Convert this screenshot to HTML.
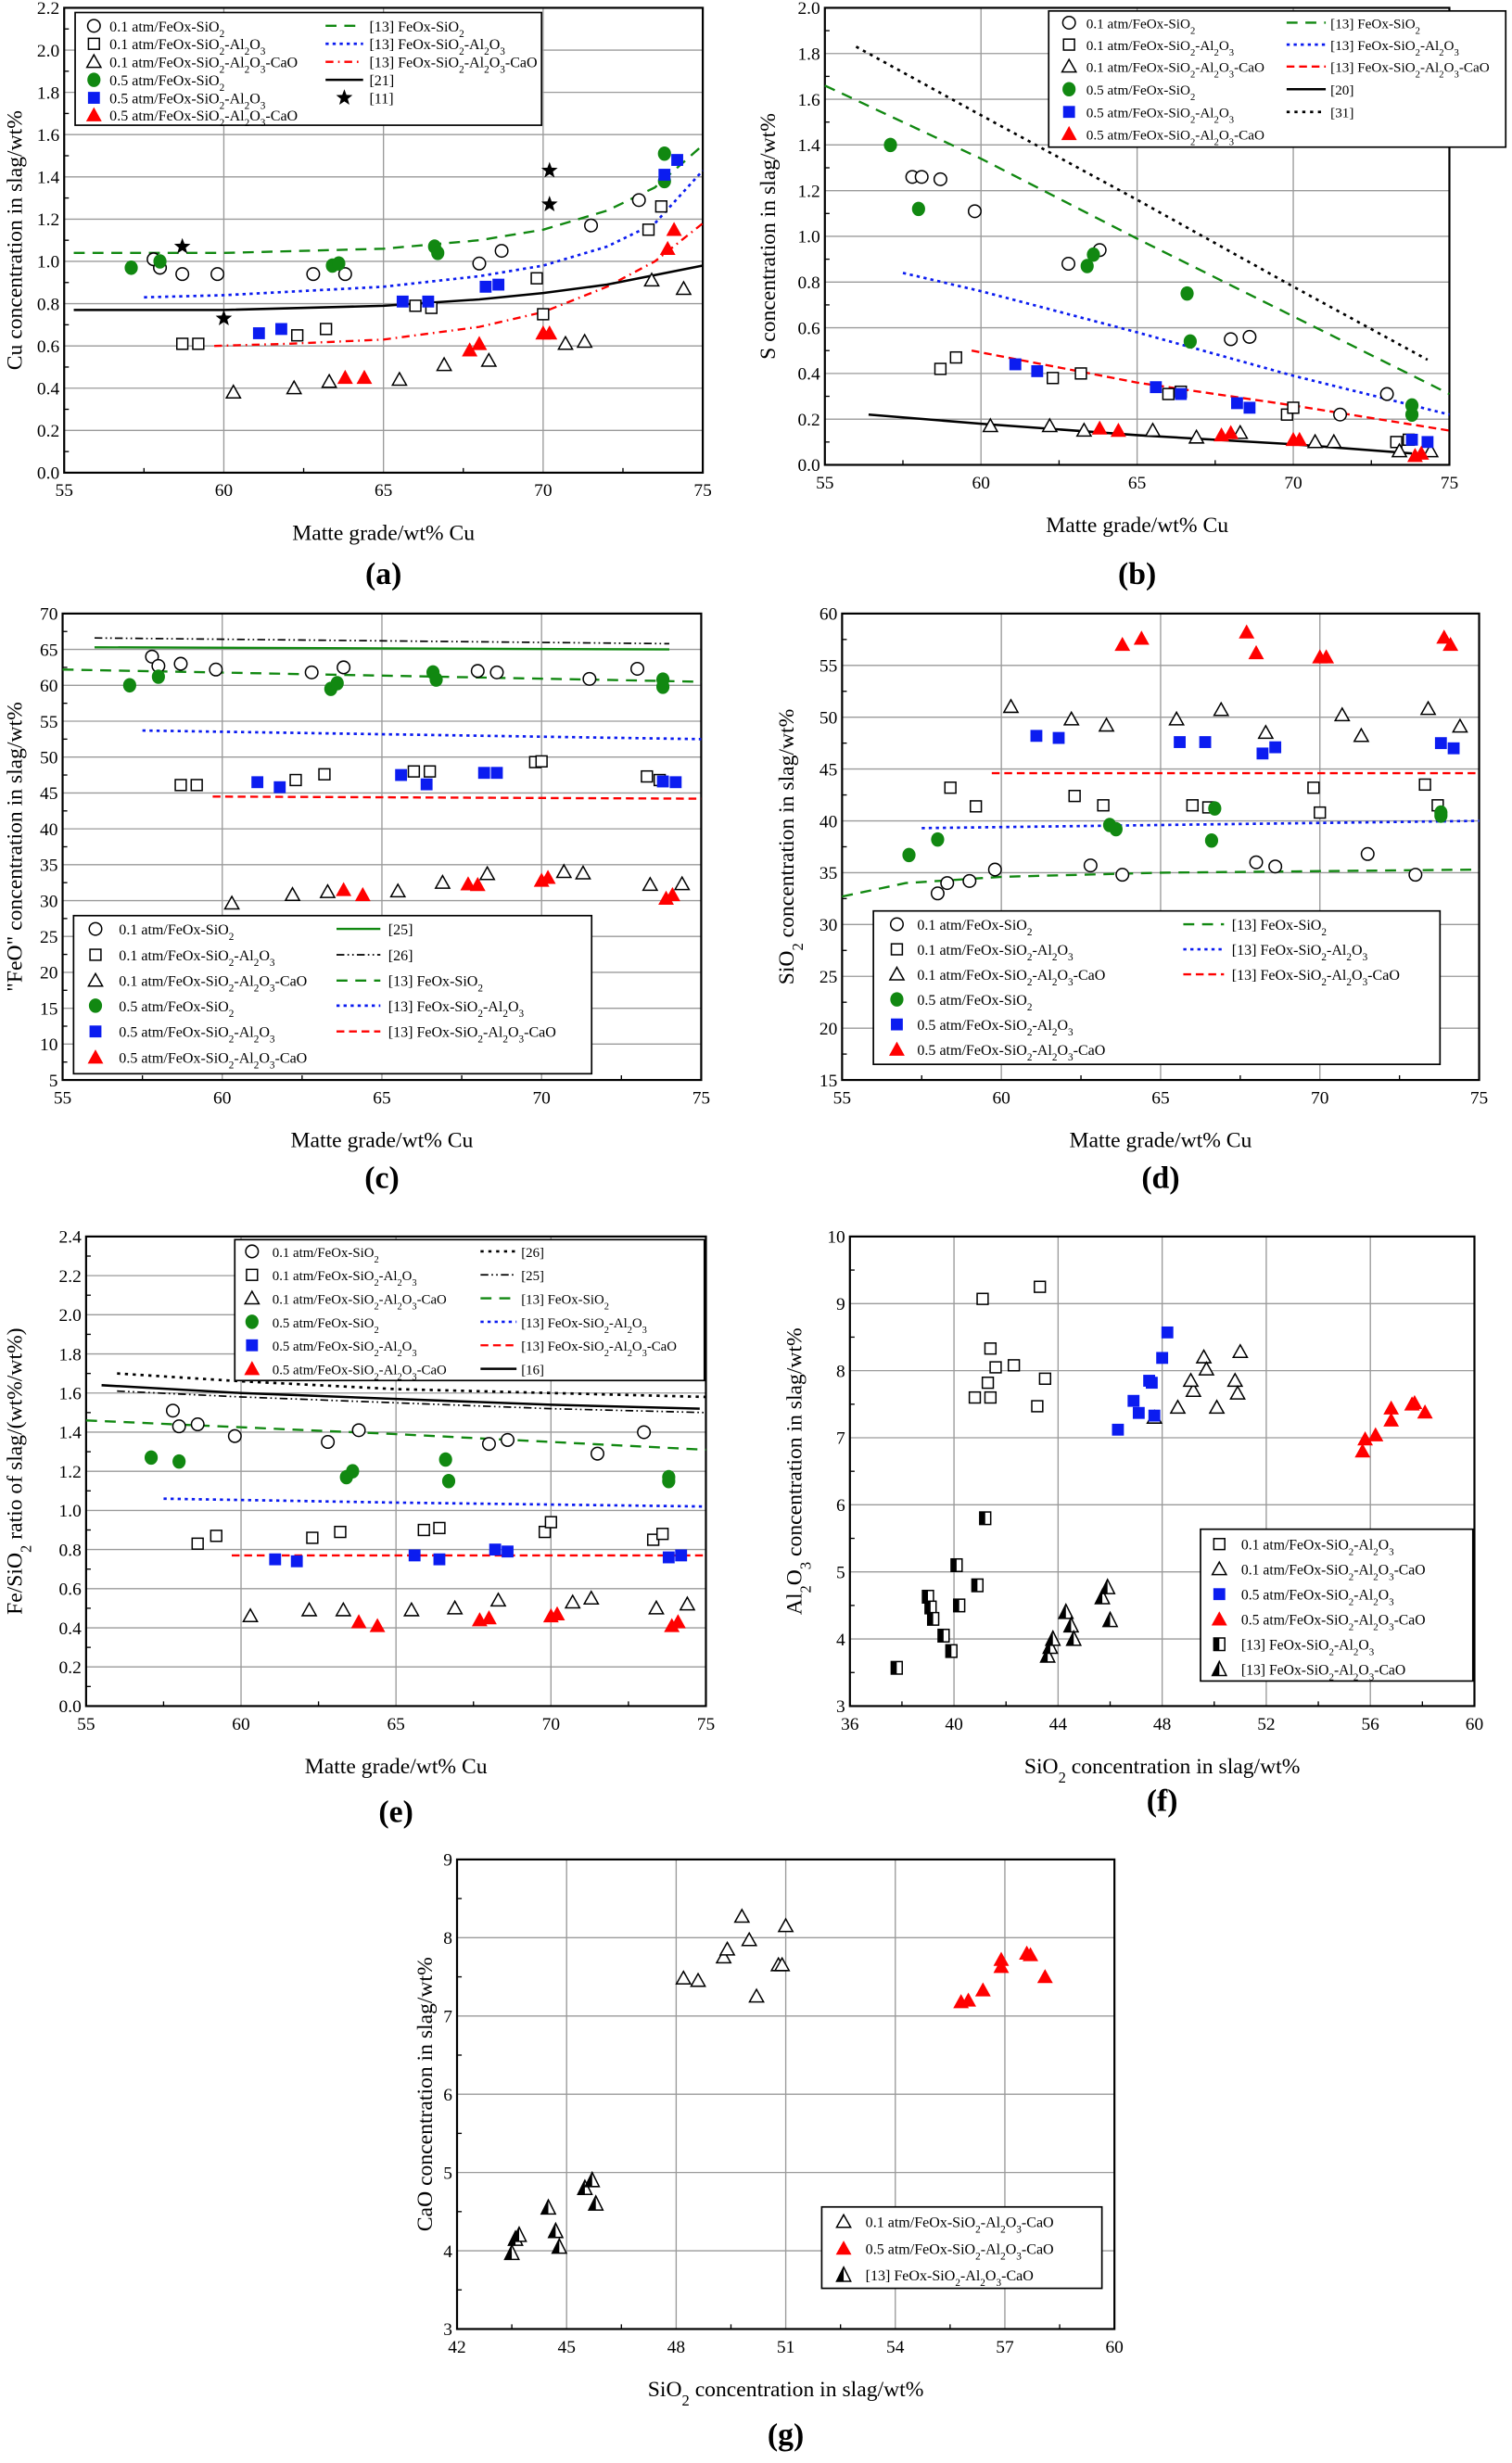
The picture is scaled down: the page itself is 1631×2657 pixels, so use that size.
<!DOCTYPE html>
<html><head><meta charset="utf-8">
<style>
html,body{margin:0;padding:0;background:#fff;}
svg{display:block;font-family:"Liberation Serif",serif;}
</style></head>
<body>
<svg id="fig" width="1631" height="2657" viewBox="0 0 966 1573.6" preserveAspectRatio="none" xmlns="http://www.w3.org/2000/svg"></svg>
<script>
// ---------- DATA ----------
// panel a: Cu in slag vs matte grade
const aO1=[[57.8,1.01],[58.0,0.97],[58.7,0.94],[59.8,0.94],[62.8,0.94],[63.8,0.94],[68.0,0.99],[68.7,1.05],[71.5,1.17],[73.0,1.29]];
const aS1=[[58.7,0.61],[59.2,0.61],[62.3,0.65],[63.2,0.68],[66.0,0.79],[66.5,0.78],[69.8,0.92],[70.0,0.75],[73.3,1.15],[73.7,1.26]];
const aT1=[[60.3,0.38],[62.2,0.40],[63.3,0.43],[65.5,0.44],[66.9,0.51],[68.3,0.53],[70.7,0.61],[71.3,0.62],[73.4,0.91],[74.4,0.87]];
const aG5=[[57.1,0.97],[58.0,1.0],[63.4,0.98],[63.6,0.99],[66.6,1.07],[66.7,1.04],[73.8,1.51],[73.8,1.38]];
const aB5=[[61.1,0.66],[61.8,0.68],[65.6,0.81],[66.4,0.81],[68.2,0.88],[68.6,0.89],[73.8,1.41],[74.2,1.48]];
const aR5=[[63.8,0.45],[64.4,0.45],[67.7,0.58],[68.0,0.61],[70.0,0.66],[70.2,0.66],[73.9,1.06],[74.1,1.15]];
const aStar=[[58.7,1.07],[60.0,0.73],[70.2,1.43],[70.2,1.27]];
const aLG=[[55.3,1.04],[60,1.04],[65,1.06],[68,1.10],[70,1.15],[72,1.24],[73.5,1.35],[75,1.55]];
const aLB=[[57.5,0.83],[60,0.84],[65,0.88],[68,0.93],[70,0.98],[72,1.07],[73.5,1.18],[75,1.43]];
const aLR=[[59.7,0.60],[62,0.61],[65,0.63],[68,0.69],[70,0.76],[72,0.88],[73.5,1.0],[75,1.18]];
const aLK=[[55.3,0.77],[60,0.77],[65,0.79],[68,0.82],[70,0.85],[72,0.89],[75,0.98]];
// panel b: S in slag
const bO1=[[57.8,1.26],[58.1,1.26],[58.7,1.25],[59.8,1.11],[62.8,0.88],[63.8,0.94],[68.0,0.55],[68.6,0.56],[71.5,0.22],[73.0,0.31]];
const bS1=[[58.7,0.42],[59.2,0.47],[62.3,0.38],[63.2,0.40],[66.0,0.31],[66.4,0.32],[69.8,0.22],[70.0,0.25],[73.3,0.10],[73.7,0.11]];
const bT1=[[60.3,0.17],[62.2,0.17],[63.3,0.15],[65.5,0.15],[66.9,0.12],[68.3,0.14],[70.7,0.10],[71.3,0.10],[73.4,0.06],[74.4,0.06]];
const bG5=[[57.1,1.40],[58.0,1.12],[63.4,0.87],[63.6,0.92],[66.6,0.75],[66.7,0.54],[73.8,0.22],[73.8,0.26]];
const bB5=[[61.1,0.44],[61.8,0.41],[65.6,0.34],[66.4,0.31],[68.2,0.27],[68.6,0.25],[73.8,0.11],[74.3,0.10]];
const bR5=[[63.8,0.16],[64.4,0.15],[67.7,0.13],[68.0,0.14],[70.0,0.11],[70.2,0.11],[73.9,0.04],[74.1,0.05]];
const bLG=[[55,1.66],[60,1.34],[65,0.99],[70,0.65],[75,0.31]];
const bLB=[[57.5,0.84],[60,0.76],[65,0.58],[70,0.39],[75,0.22]];
const bLR=[[59.7,0.50],[65,0.36],[70,0.26],[75,0.15]];
const bLK=[[56.4,0.22],[60,0.18],[65,0.13],[70,0.09],[73.8,0.05]];
const bLD=[[56,1.83],[60,1.53],[65,1.16],[70,0.78],[74.3,0.46]];
// panel c: "FeO"
const cO1=[[57.8,64],[58.0,62.7],[58.7,63],[59.8,62.2],[62.8,61.8],[63.8,62.5],[68.0,62],[68.6,61.8],[71.5,60.9],[73.0,62.3]];
const cS1=[[58.7,46.1],[59.2,46.1],[62.3,46.8],[63.2,47.6],[66.0,48],[66.5,48],[69.8,49.3],[70.0,49.4],[73.3,47.3],[73.7,46.8]];
const cT1=[[60.3,29.6],[62.2,30.8],[63.3,31.2],[65.5,31.3],[66.9,32.5],[68.3,33.7],[70.7,34],[71.3,33.8],[73.4,32.2],[74.4,32.3]];
const cG5=[[57.1,60],[58.0,61.2],[63.4,59.5],[63.6,60.3],[66.6,61.8],[66.7,60.8],[73.8,60.8],[73.8,59.8]];
const cB5=[[61.1,46.5],[61.8,45.8],[65.6,47.5],[66.4,46.2],[68.2,47.8],[68.6,47.8],[73.8,46.6],[74.2,46.5]];
const cR5=[[63.8,31.5],[64.4,30.8],[67.7,32.3],[68.0,32.2],[70.0,32.8],[70.2,33.2],[73.9,30.3],[74.1,30.8]];
const cL25=[[56,65.3],[74,65.0]];
const cL26=[[56,66.6],[74,65.8]];
const cLG=[[55,62.2],[75,60.5]];
const cLB=[[57.5,53.7],[75,52.5]];
const cLR=[[59.7,44.5],[75,44.2]];
// panel d: SiO2
const dO1=[[58.0,33],[58.3,34],[59.0,34.2],[59.8,35.3],[62.8,35.7],[63.8,34.8],[68.0,36],[68.6,35.6],[71.5,36.8],[73.0,34.8]];
const dS1=[[58.4,43.2],[59.2,41.4],[62.3,42.4],[63.2,41.5],[66.0,41.5],[66.5,41.3],[69.8,43.2],[70.0,40.8],[73.3,43.5],[73.7,41.5]];
const dT1=[[60.3,51],[62.2,49.8],[63.3,49.2],[65.5,49.8],[66.9,50.7],[68.3,48.5],[70.7,50.2],[71.3,48.2],[73.4,50.8],[74.4,49.1]];
const dG5=[[57.1,36.7],[58.0,38.2],[63.4,39.6],[63.6,39.2],[66.6,38.1],[66.7,41.2],[73.8,40.5],[73.8,40.8]];
const dB5=[[61.1,48.2],[61.8,48],[65.6,47.6],[66.4,47.6],[68.2,46.5],[68.6,47.1],[73.8,47.5],[74.2,47]];
const dR5=[[63.8,57],[64.4,57.6],[67.7,58.2],[68.0,56.2],[70.0,55.8],[70.2,55.8],[73.9,57.7],[74.1,57]];
const dLG=[[55,32.7],[57,34],[60,34.6],[65,35],[75,35.3]];
const dLB=[[57.5,39.3],[75,40.0]];
const dLR=[[59.7,44.6],[75,44.6]];
// panel e: Fe/SiO2
const eO1=[[57.8,1.51],[58.0,1.43],[58.6,1.44],[59.8,1.38],[62.8,1.35],[63.8,1.41],[68.0,1.34],[68.6,1.36],[71.5,1.29],[73.0,1.40]];
const eS1=[[58.6,0.83],[59.2,0.87],[62.3,0.86],[63.2,0.89],[65.9,0.90],[66.4,0.91],[69.8,0.89],[70.0,0.94],[73.3,0.85],[73.6,0.88]];
const eT1=[[60.3,0.46],[62.2,0.49],[63.3,0.49],[65.5,0.49],[66.9,0.50],[68.3,0.54],[70.7,0.53],[71.3,0.55],[73.4,0.50],[74.4,0.52]];
const eG5=[[57.1,1.27],[58.0,1.25],[63.4,1.17],[63.6,1.20],[66.6,1.26],[66.7,1.15],[73.8,1.15],[73.8,1.17]];
const eB5=[[61.1,0.75],[61.8,0.74],[65.6,0.77],[66.4,0.75],[68.2,0.80],[68.6,0.79],[73.8,0.76],[74.2,0.77]];
const eR5=[[63.8,0.43],[64.4,0.41],[67.7,0.44],[68.0,0.45],[70.0,0.46],[70.2,0.47],[73.9,0.41],[74.1,0.43]];
const eL26=[[56,1.70],[60,1.66],[65,1.62],[70,1.60],[75,1.58]];
const eL25=[[56,1.61],[60,1.58],[65,1.55],[70,1.52],[75,1.50]];
const eL16=[[55.5,1.64],[60,1.60],[65,1.57],[70,1.54],[74.8,1.52]];
const eLG=[[55,1.46],[65,1.39],[75,1.31]];
const eLB=[[57.5,1.06],[65,1.04],[75,1.02]];
const eLR=[[59.7,0.77],[75,0.77]];
// panel f: Al2O3 vs SiO2
const fS1=[[41.1,9.07],[43.3,9.25],[41.4,8.33],[41.6,8.05],[42.3,8.08],[43.5,7.88],[41.3,7.82],[40.8,7.6],[41.4,7.6],[43.2,7.47]];
const fT1=[[47.7,7.3],[48.6,7.45],[49.2,7.7],[49.1,7.85],[49.6,8.2],[49.7,8.02],[50.1,7.45],[50.8,7.85],[50.9,7.66],[51.0,8.28]];
const fB5=[[46.3,7.12],[46.9,7.55],[47.1,7.37],[47.5,7.85],[47.7,7.33],[47.6,7.82],[48.0,8.19],[48.2,8.57]];
const fR5=[[55.7,6.8],[55.8,6.98],[56.2,7.04],[56.8,7.44],[56.8,7.26],[57.6,7.5],[57.7,7.52],[58.1,7.38]];
const fS13=[[37.8,3.57],[39.0,4.63],[39.1,4.47],[39.2,4.3],[39.6,4.05],[39.9,3.82],[40.1,5.1],[40.2,4.5],[40.9,4.8],[41.2,5.8]];
const fT13=[[43.6,3.75],[43.7,3.88],[43.8,4.0],[44.3,4.4],[44.5,4.2],[44.6,4.0],[45.7,4.62],[45.9,4.77],[46.0,4.28]];
// panel g: CaO vs SiO2
const gT1=[[48.2,7.48],[48.6,7.45],[49.3,7.75],[49.4,7.85],[49.8,8.27],[50.0,7.97],[50.2,7.25],[50.8,7.65],[50.9,7.65],[51.0,8.15]];
const gR5=[[55.8,7.18],[56.0,7.2],[56.4,7.33],[56.9,7.63],[56.9,7.72],[57.6,7.8],[57.7,7.78],[58.1,7.5]];
const gT13=[[43.5,3.97],[43.6,4.15],[43.7,4.2],[44.5,4.55],[44.7,4.25],[44.8,4.05],[45.5,4.8],[45.7,4.9],[45.8,4.6]];
const ticksA=[0,0.2,0.4,0.6,0.8,1.0,1.2,1.4,1.6,1.8,2.0,2.2];
const ticksB=[0,0.2,0.4,0.6,0.8,1.0,1.2,1.4,1.6,1.8,2.0];
const ticksC=[5,10,15,20,25,30,35,40,45,50,55,60,65,70];
const ticksD=[15,20,25,30,35,40,45,50,55,60];
const ticksE=[0,0.2,0.4,0.6,0.8,1.0,1.2,1.4,1.6,1.8,2.0,2.2,2.4];
const ticksMG=[55,60,65,70,75];
const ticksFy=[3,4,5,6,7,8,9,10];
const ticksFx=[36,40,44,48,52,56,60];
const ticksGy=[3,4,5,6,7,8,9];
const ticksGx=[42,45,48,51,54,57,60];

// ---------- DRAWING ----------
const NS='http://www.w3.org/2000/svg';
const svg=document.getElementById('fig');
function el(tag,attrs,parent){const e=document.createElementNS(NS,tag);for(const k in attrs)e.setAttribute(k,attrs[k]);(parent||svg).appendChild(e);return e;}
function sub(s){return s.replace(/_(\d)/g,'<tspan baseline-shift="sub" font-size="70%">$1</tspan>');}
function txt(parent,x,y,s,size,anchor,name,extra){
  const t=el('text',Object.assign({x:x,y:y,'font-size':size,'text-anchor':anchor||'start',fill:'#000'},extra||{}),parent);
  t.innerHTML=sub(s);
  
  
  return t;
}
function makePanel(id,L,R,T,B,xd,yd,xt,yt,dec,xTitle,yTitle,yTitleX,label,labelY){
  const g=el('g',{},svg);
  
  
  const sx=v=>L+(v-xd[0])/(xd[1]-xd[0])*(R-L);
  const sy=v=>B-(v-yd[0])/(yd[1]-yd[0])*(B-T);
  const grid=el('g',{stroke:'#9a9a9a','stroke-width':0.8},g);
  
  
  xt.forEach(v=>{el('line',{x1:sx(v),x2:sx(v),y1:T,y2:B},grid);
    const t=txt(g,sx(v),B+15,String(v),11.5,'middle','x-tick-label');});
  yt.forEach(v=>{el('line',{x1:L,x2:R,y1:sy(v),y2:sy(v)},grid);
    txt(g,L-3,sy(v)+4,v.toFixed(dec),11.5,'end','y-tick-label');});
  // minor ticks
  const tk=el('g',{stroke:'#000','stroke-width':0.8},g);
  for(let i=0;i<xt.length-1;i++){const m=(xt[i]+xt[i+1])/2;el('line',{x1:sx(m),x2:sx(m),y1:B,y2:B-3},tk);}
  for(let i=0;i<yt.length-1;i++){const m=(yt[i]+yt[i+1])/2;el('line',{x1:L,x2:L+3,y1:sy(m),y2:sy(m)},tk);}
  const ax=el('rect',{x:L,y:T,width:R-L,height:B-T,fill:'none',stroke:'#000','stroke-width':1.3},g);
  
  
  txt(g,(L+R)/2,B+43,xTitle,14,'middle','x-axis-title');
  const yy=(T+B)/2;
  txt(g,yTitleX,yy,yTitle,14,'middle','y-axis-title',{transform:'rotate(-90 '+yTitleX+' '+yy+')'});
  txt(g,(L+R)/2,labelY,label,20,'middle','panel-label',{'font-weight':'bold'});
  const plot=el('g',{},g);
  return {g:plot,sx,sy};
}
function marker(g,type,x,y,name){
  let m;
  const s=4;
  if(type==='co'){m=el('circle',{cx:x,cy:y,r:4,fill:'#fff',stroke:'#000','stroke-width':0.9},g);}
  else if(type==='cg'){m=el('ellipse',{cx:x,cy:y,rx:4.2,ry:4.6,fill:'#118811',stroke:'none'},g);}
  else if(type==='so'){m=el('rect',{x:x-3.5,y:y-3.5,width:7,height:7,fill:'#fff',stroke:'#000','stroke-width':0.9},g);}
  else if(type==='sb'){m=el('rect',{x:x-3.8,y:y-3.8,width:7.6,height:7.6,fill:'#0b1cf0',stroke:'none'},g);}
  else if(type==='to'){m=el('polygon',{points:(x)+','+(y-4.5)+' '+(x+4.5)+','+(y+3.5)+' '+(x-4.5)+','+(y+3.5),fill:'#fff',stroke:'#000','stroke-width':0.9},g);}
  else if(type==='tr'){m=el('polygon',{points:(x)+','+(y-5)+' '+(x+5)+','+(y+4)+' '+(x-5)+','+(y+4),fill:'#f00',stroke:'none'},g);}
  else if(type==='sh'){m=el('g',{},g);el('rect',{x:x-3.5,y:y-4,width:7,height:8,fill:'#fff',stroke:'#000','stroke-width':0.9},m);el('rect',{x:x-3.5,y:y-4,width:3.5,height:8,fill:'#000'},m);}
  else if(type==='th'){m=el('g',{},g);el('polygon',{points:(x)+','+(y-5)+' '+(x+4.5)+','+(y+4)+' '+(x-4.5)+','+(y+4),fill:'#fff',stroke:'#000','stroke-width':0.9},m);el('polygon',{points:(x)+','+(y-5)+' '+(x)+','+(y+4)+' '+(x-4.5)+','+(y+4),fill:'#000'},m);}
  else if(type==='st'){let p=[];for(let i=0;i<10;i++){const r=i%2?2.3:5.5,a=-Math.PI/2+i*Math.PI/5;p.push((x+r*Math.cos(a)).toFixed(2)+','+(y+r*Math.sin(a)).toFixed(2));}m=el('polygon',{points:p.join(' '),fill:'#000'},g);}
  
  
  return m;
}
const styles={
  g:{stroke:'#118811',dash:'7 5',w:1.4},
  b:{stroke:'#0b1cf0',dash:'2 2.5',w:1.6},
  r:{stroke:'#f00',dash:'5 3 1 3',w:1.4},
  rd:{stroke:'#f00',dash:'5 3',w:1.4},
  k:{stroke:'#000',dash:'',w:1.5},
  kd:{stroke:'#000',dash:'2 3',w:1.6},
  kdd:{stroke:'#000',dash:'5 2 1 2 1 2',w:1},
  gs:{stroke:'#118811',dash:'',w:1.4}
};
function line(P,pts,st,name){
  const s=styles[st];
  const d=pts.map((p,i)=>(i?'L':'M')+P.sx(p[0]).toFixed(2)+','+P.sy(p[1]).toFixed(2)).join(' ');
  const l=el('path',{d:d,fill:'none',stroke:s.stroke,'stroke-width':s.w,'stroke-dasharray':s.dash},P.g);
  
  
}
function pts(P,arr,type,name){arr.forEach(p=>{
  const mm=marker(P.g,type,P.sx(p[0]),P.sy(p[1]),name);
});}
function legendLine(g,x1,x2,y,st){const s=styles[st];el('line',{x1:x1,x2:x2,y1:y,y2:y,stroke:s.stroke,'stroke-width':s.w,'stroke-dasharray':s.dash},g);}
function legend(id,x,y,w,h,rows,size){
  const g=el('g',{},svg);
  
  
  el('rect',{x:x,y:y,width:w,height:h,fill:'#fff',stroke:'#000','stroke-width':1},g);
  rows.forEach(r=>{
    const e=el('g',{},g);
    
    
    if(r.m) marker(e,r.m,r.x,r.y-3.5,'legend-marker');
    else if(r.l==='st') marker(e,'st',r.x,r.y-3.5,'legend-marker');
    else legendLine(e,r.x,r.x2,r.y-3.5,r.l);
    txt(e,r.tx,r.y,r.t,size,'start','legend-label');
  });
}
const L1=['0.1 atm/FeOx-SiO_2','0.1 atm/FeOx-SiO_2-Al_2O_3','0.1 atm/FeOx-SiO_2-Al_2O_3-CaO','0.5 atm/FeOx-SiO_2','0.5 atm/FeOx-SiO_2-Al_2O_3','0.5 atm/FeOx-SiO_2-Al_2O_3-CaO'];
const M1=['co','so','to','cg','sb','tr'];
function leftRows(x,tx,ys){return ys.map((y,i)=>({m:M1[i],x:x,tx:tx,y:y,t:L1[i]}));}

// ---- (a)
let P=makePanel('a',41,449,5,302,[55,75],[0,2.2],ticksMG,ticksA,1,'Matte grade/wt% Cu','Cu concentration in slag/wt%',14,'(a)',373);
line(P,aLG,'g','line-13-feox-sio2');line(P,aLB,'b','line-13-al2o3');line(P,aLR,'r','line-13-cao');line(P,aLK,'k','line-21');
pts(P,aO1,'co','point-0.1-sio2');pts(P,aS1,'so','point-0.1-al2o3');pts(P,aT1,'to','point-0.1-cao');
pts(P,aG5,'cg','point-0.5-sio2');pts(P,aB5,'sb','point-0.5-al2o3');pts(P,aR5,'tr','point-0.5-cao');pts(P,aStar,'st','point-ref-11');
{const ys=[20,31.5,43,54.5,66,77];let r=leftRows(60,70,ys);
 r.push({l:'g',x:208,x2:232,tx:236,y:ys[0],t:'[13] FeOx-SiO_2'},{l:'b',x:208,x2:232,tx:236,y:ys[1],t:'[13] FeOx-SiO_2-Al_2O_3'},{l:'r',x:208,x2:232,tx:236,y:ys[2],t:'[13] FeOx-SiO_2-Al_2O_3-CaO'},{l:'k',x:208,x2:232,tx:236,y:ys[3],t:'[21]'},{l:'st',x:220,tx:236,y:ys[4],t:'[11]'});
 legend('a',48,8,298,72,r,9.5);}
// ---- (b)
P=makePanel('b',527,926,5,297,[55,75],[0,2.0],ticksMG,ticksB,1,'Matte grade/wt% Cu','S concentration in slag/wt%',495,'(b)',373);
line(P,bLG,'g','line-13-feox-sio2');line(P,bLB,'b','line-13-al2o3');line(P,bLR,'rd','line-13-cao');line(P,bLK,'k','line-20');line(P,bLD,'kd','line-31');
pts(P,bO1,'co','point-0.1-sio2');pts(P,bS1,'so','point-0.1-al2o3');pts(P,bT1,'to','point-0.1-cao');
pts(P,bG5,'cg','point-0.5-sio2');pts(P,bB5,'sb','point-0.5-al2o3');pts(P,bR5,'tr','point-0.5-cao');
{const ys=[18,32,46,60.5,75,89];let r=leftRows(683,694,ys);
 const lx=822,lx2=847,tx=850;
 r.push({l:'g',x:lx,x2:lx2,tx:tx,y:ys[0],t:'[13] FeOx-SiO_2'},{l:'b',x:lx,x2:lx2,tx:tx,y:ys[1],t:'[13] FeOx-SiO_2-Al_2O_3'},{l:'rd',x:lx,x2:lx2,tx:tx,y:ys[2],t:'[13] FeOx-SiO_2-Al_2O_3-CaO'},{l:'k',x:lx,x2:lx2,tx:tx,y:ys[3],t:'[20]'},{l:'kd',x:lx,x2:lx2,tx:tx,y:ys[4],t:'[31]'});
 legend('b',670,7,292,87,r,9);}
// ---- (c)
P=makePanel('c',40,448,392,690,[55,75],[5,70],ticksMG,ticksC,0,'Matte grade/wt% Cu','"FeO" concentration in slag/wt%',14,'(c)',759);
line(P,cL25,'gs','line-25');line(P,cL26,'kdd','line-26');line(P,cLG,'g','line-13-feox-sio2');line(P,cLB,'b','line-13-al2o3');line(P,cLR,'rd','line-13-cao');
pts(P,cO1,'co','point-0.1-sio2');pts(P,cS1,'so','point-0.1-al2o3');pts(P,cT1,'to','point-0.1-cao');
pts(P,cG5,'cg','point-0.5-sio2');pts(P,cB5,'sb','point-0.5-al2o3');pts(P,cR5,'tr','point-0.5-cao');
{const ys=[597,613.5,630,646,662.5,679];let r=leftRows(61,76,ys);
 const lx=215,lx2=243,tx=248;
 r.push({l:'gs',x:lx,x2:lx2,tx:tx,y:ys[0],t:'[25]'},{l:'kdd',x:lx,x2:lx2,tx:tx,y:ys[1],t:'[26]'},{l:'g',x:lx,x2:lx2,tx:tx,y:ys[2],t:'[13] FeOx-SiO_2'},{l:'b',x:lx,x2:lx2,tx:tx,y:ys[3],t:'[13] FeOx-SiO_2-Al_2O_3'},{l:'rd',x:lx,x2:lx2,tx:tx,y:ys[4],t:'[13] FeOx-SiO_2-Al_2O_3-CaO'});
 legend('c',47,585,331,101,r,9.5);}
// ---- (d)
P=makePanel('d',538,945,392,690,[55,75],[15,60],ticksMG,ticksD,0,'Matte grade/wt% Cu','SiO_2 concentration in slag/wt%',507,'(d)',759);
line(P,dLG,'g','line-13-feox-sio2');line(P,dLB,'b','line-13-al2o3');line(P,dLR,'rd','line-13-cao');
pts(P,dO1,'co','point-0.1-sio2');pts(P,dS1,'so','point-0.1-al2o3');pts(P,dT1,'to','point-0.1-cao');
pts(P,dG5,'cg','point-0.5-sio2');pts(P,dB5,'sb','point-0.5-al2o3');pts(P,dR5,'tr','point-0.5-cao');
{const ys=[594,610,626,642,658,674];let r=leftRows(573,586,ys);
 const lx=756,lx2=782,tx=787;
 r.push({l:'g',x:lx,x2:lx2,tx:tx,y:ys[0],t:'[13] FeOx-SiO_2'},{l:'b',x:lx,x2:lx2,tx:tx,y:ys[1],t:'[13] FeOx-SiO_2-Al_2O_3'},{l:'rd',x:lx,x2:lx2,tx:tx,y:ys[2],t:'[13] FeOx-SiO_2-Al_2O_3-CaO'});
 legend('d',558,582,362,98,r,9.5);}
// ---- (e)
P=makePanel('e',55,451,790,1090,[55,75],[0,2.4],ticksMG,ticksE,1,'Matte grade/wt% Cu','Fe/SiO_2 ratio of slag/(wt%/wt%)',14,'(e)',1164);
line(P,eL26,'kd','line-26');line(P,eL25,'kdd','line-25');line(P,eL16,'k','line-16');line(P,eLG,'g','line-13-feox-sio2');line(P,eLB,'b','line-13-al2o3');line(P,eLR,'rd','line-13-cao');
pts(P,eO1,'co','point-0.1-sio2');pts(P,eS1,'so','point-0.1-al2o3');pts(P,eT1,'to','point-0.1-cao');
pts(P,eG5,'cg','point-0.5-sio2');pts(P,eB5,'sb','point-0.5-al2o3');pts(P,eR5,'tr','point-0.5-cao');
{const ys=[803,818,833,848,863,878];let r=leftRows(161,174,ys);
 const lx=307,lx2=330,tx=333;
 r.push({l:'kd',x:lx,x2:lx2,tx:tx,y:ys[0],t:'[26]'},{l:'kdd',x:lx,x2:lx2,tx:tx,y:ys[1],t:'[25]'},{l:'g',x:lx,x2:lx2,tx:tx,y:ys[2],t:'[13] FeOx-SiO_2'},{l:'b',x:lx,x2:lx2,tx:tx,y:ys[3],t:'[13] FeOx-SiO_2-Al_2O_3'},{l:'rd',x:lx,x2:lx2,tx:tx,y:ys[4],t:'[13] FeOx-SiO_2-Al_2O_3-CaO'},{l:'k',x:lx,x2:lx2,tx:tx,y:ys[5],t:'[16]'});
 legend('e',150,792,300,90,r,8.8);}
// ---- (f)
P=makePanel('f',543,942,790,1090,[36,60],[3,10],ticksFx,ticksFy,0,'SiO_2 concentration in slag/wt%','Al_2O_3 concentration in slag/wt%',512,'(f)',1157);
pts(P,fS1,'so','point-0.1-al2o3');pts(P,fT1,'to','point-0.1-cao');pts(P,fB5,'sb','point-0.5-al2o3');pts(P,fR5,'tr','point-0.5-cao');
pts(P,fS13,'sh','point-ref-13-al2o3');pts(P,fT13,'th','point-ref-13-cao');
{const ys=[990,1006,1022,1038,1054,1070];const ms=['so','to','sb','tr','sh','th'];
 const ls=['0.1 atm/FeOx-SiO_2-Al_2O_3','0.1 atm/FeOx-SiO_2-Al_2O_3-CaO','0.5 atm/FeOx-SiO_2-Al_2O_3','0.5 atm/FeOx-SiO_2-Al_2O_3-CaO','[13] FeOx-SiO_2-Al_2O_3','[13] FeOx-SiO_2-Al_2O_3-CaO'];
 legend('f',767,977,174,97,ys.map((y,i)=>({m:ms[i],x:779,tx:793,y:y,t:ls[i]})),9.3);}
// ---- (g)
P=makePanel('g',292,712,1188,1488,[42,60],[3,9],ticksGx,ticksGy,0,'SiO_2 concentration in slag/wt%','CaO concentration in slag/wt%',276,'(g)',1562);
pts(P,gT1,'to','point-0.1-cao');pts(P,gR5,'tr','point-0.5-cao');pts(P,gT13,'th','point-ref-13-cao');
{const ys=[1423,1440,1457];const ms=['to','tr','th'];const ls=['0.1 atm/FeOx-SiO_2-Al_2O_3-CaO','0.5 atm/FeOx-SiO_2-Al_2O_3-CaO','[13] FeOx-SiO_2-Al_2O_3-CaO'];
 legend('g',525,1410,179,52,ys.map((y,i)=>({m:ms[i],x:539,tx:553,y:y,t:ls[i]})),9.5);}
</script>
</body></html>
